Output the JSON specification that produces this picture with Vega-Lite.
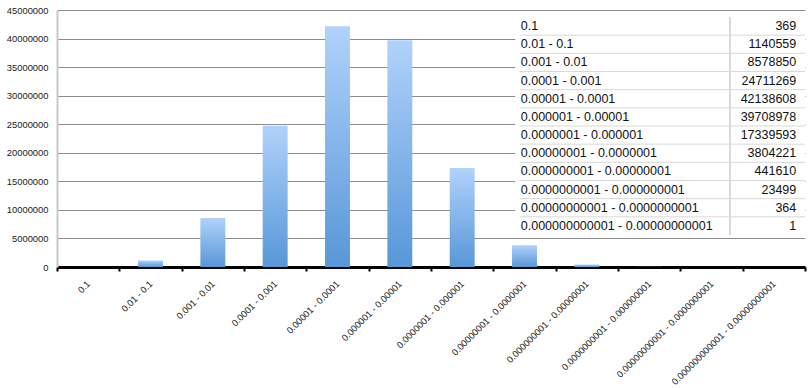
{
  "$schema": "https://vega.github.io/schema/vega-lite/v6.json",
  "width": 748,
  "height": 257,
  "autosize": {"type": "none"},
  "padding": {"left": 57, "top": 10, "right": 7, "bottom": 121},
  "background": "white",
  "config": {"view": {"stroke": null}},
  "data": {
    "values": [
      {"range": "0.1", "count": 369},
      {"range": "0.01 - 0.1", "count": 1140559},
      {"range": "0.001 - 0.01", "count": 8578850},
      {"range": "0.0001 - 0.001", "count": 24711269},
      {"range": "0.00001 - 0.0001", "count": 42138608},
      {"range": "0.000001 - 0.00001", "count": 39708978},
      {"range": "0.0000001 - 0.000001", "count": 17339593},
      {"range": "0.00000001 - 0.0000001", "count": 3804221},
      {"range": "0.000000001 - 0.00000001", "count": 441610},
      {"range": "0.0000000001 - 0.000000001", "count": 23499},
      {"range": "0.00000000001 - 0.0000000001", "count": 364},
      {"range": "0.000000000001 - 0.00000000001", "count": 1}
    ]
  },
  "layer": [
    {
      "mark": {
        "type": "bar",
        "width": {"band": 0.4},
        "color": {
          "gradient": "linear",
          "x1": 0, "y1": 0, "x2": 0, "y2": 1,
          "stops": [
            {"offset": 0, "color": "#b0d2fb"},
            {"offset": 1, "color": "#5797d8"}
          ]
        }
      },
      "encoding": {
        "x": {
          "field": "range",
          "type": "nominal",
          "scale": {
            "domain": ["0.1", "0.01 - 0.1", "0.001 - 0.01", "0.0001 - 0.001", "0.00001 - 0.0001", "0.000001 - 0.00001", "0.0000001 - 0.000001", "0.00000001 - 0.0000001", "0.000000001 - 0.00000001", "0.0000000001 - 0.000000001", "0.00000000001 - 0.0000000001", "0.000000000001 - 0.00000000001"],
            "paddingInner": 0,
            "paddingOuter": 0
          },
          "axis": {
            "title": null,
            "grid": false,
            "domainColor": "#000000",
            "domainWidth": 3,
            "tickColor": "#000000",
            "tickWidth": 2,
            "tickSize": 4,
            "tickBand": "extent",
            "labelAngle": -45,
            "labelAlign": "right",
            "labelBaseline": "middle",
            "labelPadding": 11,
            "labelFont": "Liberation Sans",
            "labelFontSize": 9.3,
            "labelColor": "#222222",
            "labelOverlap": false
          }
        },
        "y": {
          "field": "count",
          "type": "quantitative",
          "scale": {"domain": [0, 45000000], "nice": false},
          "axis": {
            "title": null,
            "values": [0, 5000000, 10000000, 15000000, 20000000, 25000000, 30000000, 35000000, 40000000, 45000000],
            "format": "d",
            "ticks": false,
            "labelPadding": 9,
            "labelFont": "Liberation Sans",
            "labelFontSize": 9.4,
            "labelColor": "#222222",
            "domainColor": "#c8c8c8",
            "domainWidth": 2,
            "gridColor": "#8c8c8c",
            "gridWidth": 1
          }
        }
      }
    },
    {
      "layer": [
        {
          "mark": {"type": "rect", "fill": "white"},
          "encoding": {
            "x": {"datum": "0.00000001 - 0.0000001", "type": "nominal", "bandPosition": 0.35},
            "x2": {"value": "width"},
            "y": {"field": "range", "type": "nominal"}
          }
        },
        {
          "transform": [{"filter": "datum.range != '0.000000000001 - 0.00000000001'"}],
          "mark": {"type": "rule", "color": "#d9d9d9", "strokeWidth": 1},
          "encoding": {
            "x": {"datum": "0.00000001 - 0.0000001", "type": "nominal", "bandPosition": 0.42},
            "x2": {"value": "width"},
            "y": {"field": "range", "type": "nominal", "bandPosition": 1}
          }
        },
        {
          "mark": {"type": "rule", "color": "#d9d9d9", "strokeWidth": 1},
          "encoding": {
            "x": {"datum": "0.00000000001 - 0.0000000001", "type": "nominal", "bandPosition": 0.8},
            "y": {"datum": "0.1", "type": "nominal", "bandPosition": 0},
            "y2": {"datum": "0.000000000001 - 0.00000000001", "bandPosition": 1}
          }
        },
        {
          "mark": {"type": "text", "align": "left", "baseline": "middle", "font": "Liberation Sans", "fontSize": 12.5, "color": "#111111"},
          "encoding": {
            "x": {"datum": "0.00000001 - 0.0000001", "type": "nominal", "bandPosition": 0.44},
            "y": {"field": "range", "type": "nominal"},
            "text": {"field": "range", "type": "nominal"}
          }
        },
        {
          "mark": {"type": "text", "align": "right", "baseline": "middle", "font": "Liberation Sans", "fontSize": 12.5, "color": "#111111"},
          "encoding": {
            "x": {"datum": "0.000000000001 - 0.00000000001", "type": "nominal", "bandPosition": 0.86},
            "y": {"field": "range", "type": "nominal"},
            "text": {"field": "count", "type": "quantitative", "format": "d"}
          }
        }
      ],
      "encoding": {
        "y": {
          "field": "range",
          "type": "nominal",
          "scale": {
            "domain": ["0.1", "0.01 - 0.1", "0.001 - 0.01", "0.0001 - 0.001", "0.00001 - 0.0001", "0.000001 - 0.00001", "0.0000001 - 0.000001", "0.00000001 - 0.0000001", "0.000000001 - 0.00000001", "0.0000000001 - 0.000000001", "0.00000000001 - 0.0000000001", "0.000000000001 - 0.00000000001"],
            "range": [7, 225],
            "paddingInner": 0,
            "paddingOuter": 0
          },
          "axis": null
        }
      }
    }
  ],
  "resolve": {"scale": {"y": "independent"}, "axis": {"y": "independent"}}
}
